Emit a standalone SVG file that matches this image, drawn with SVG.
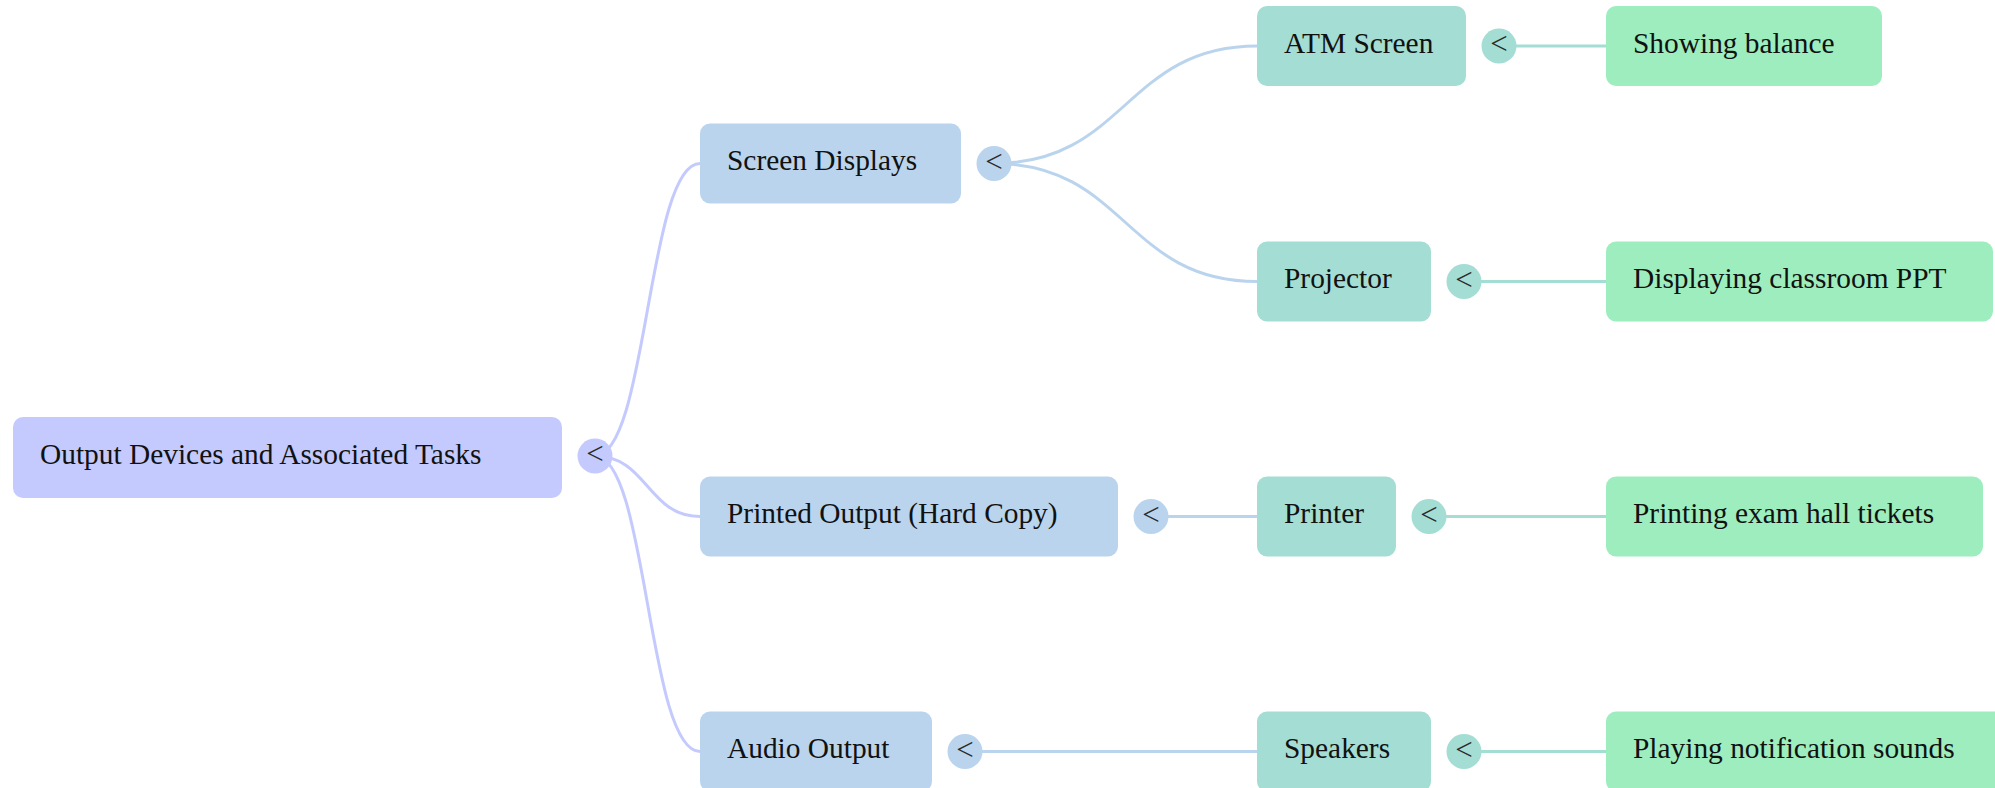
<svg xmlns="http://www.w3.org/2000/svg" width="1995" height="788" viewBox="0 0 1995 788">
<style>
  .lbl { font-family: "Liberation Serif", "Times New Roman", serif; font-size: 29.4px; fill: #111; }
  .tog { font-family: "Liberation Serif", "Times New Roman", serif; font-size: 31px; fill: #2a2a2a; text-anchor: middle; }
  .l0 { fill: #c4cafd; }
  .l1 { fill: #bad4ee; }
  .l2 { fill: #a4ddd3; }
  .l3 { fill: #9dedbe; }
  .c0 { fill: none; stroke: #c4cafd; stroke-width: 3; }
  .c1 { fill: none; stroke: #bad4ee; stroke-width: 3; }
  .c2 { fill: none; stroke: #a4ddd3; stroke-width: 3; }
</style>
<rect width="1995" height="788" fill="#ffffff"/>
<g id="connectors">
  <path class="c0" d="M595 456 C647.5 456 647.5 163.5 700 163.5"/>
  <path class="c0" d="M595 456 C647.5 456 647.5 516.5 700 516.5"/>
  <path class="c0" d="M595 456 C647.5 456 647.5 751.5 700 751.5"/>
  <path class="c1" d="M994 163.5 C1125.5 163.5 1125.5 46 1257 46"/>
  <path class="c1" d="M994 163.5 C1125.5 163.5 1125.5 281.5 1257 281.5"/>
  <path class="c1" d="M1151 516.5 L1257 516.5"/>
  <path class="c1" d="M965 751.5 L1257 751.5"/>
  <path class="c2" d="M1499 46 L1606 46"/>
  <path class="c2" d="M1464 281.5 L1606 281.5"/>
  <path class="c2" d="M1429 516.5 L1606 516.5"/>
  <path class="c2" d="M1464 751.5 L1606 751.5"/>
</g>
<g id="root">
  <rect class="l0" x="13" y="417" width="549" height="81" rx="10"/>
  <text class="lbl" x="40" y="464">Output Devices and Associated Tasks</text>
  <circle class="l0" cx="595" cy="456" r="17.5"/>
  <text class="tog" x="595" y="464">&lt;</text>
</g>
<g id="screen-displays">
  <rect class="l1" x="700" y="123.5" width="261" height="80" rx="10"/>
  <text class="lbl" x="727" y="170">Screen Displays</text>
  <circle class="l1" cx="994" cy="163.5" r="17.5"/>
  <text class="tog" x="994" y="171.5">&lt;</text>
</g>
<g id="printed-output">
  <rect class="l1" x="700" y="476.5" width="418" height="80" rx="10"/>
  <text class="lbl" x="727" y="523">Printed Output (Hard Copy)</text>
  <circle class="l1" cx="1151" cy="516.5" r="17.5"/>
  <text class="tog" x="1151" y="524.5">&lt;</text>
</g>
<g id="audio-output">
  <rect class="l1" x="700" y="711.5" width="232" height="80" rx="10"/>
  <text class="lbl" x="727" y="758">Audio Output</text>
  <circle class="l1" cx="965" cy="751.5" r="17.5"/>
  <text class="tog" x="965" y="759.5">&lt;</text>
</g>
<g id="atm-screen">
  <rect class="l2" x="1257" y="6" width="209" height="80" rx="10"/>
  <text class="lbl" x="1284" y="52.5">ATM Screen</text>
  <circle class="l2" cx="1499" cy="46" r="17.5"/>
  <text class="tog" x="1499" y="54">&lt;</text>
</g>
<g id="projector">
  <rect class="l2" x="1257" y="241.5" width="174" height="80" rx="10"/>
  <text class="lbl" x="1284" y="288">Projector</text>
  <circle class="l2" cx="1464" cy="281.5" r="17.5"/>
  <text class="tog" x="1464" y="289.5">&lt;</text>
</g>
<g id="printer">
  <rect class="l2" x="1257" y="476.5" width="139" height="80" rx="10"/>
  <text class="lbl" x="1284" y="523">Printer</text>
  <circle class="l2" cx="1429" cy="516.5" r="17.5"/>
  <text class="tog" x="1429" y="524.5">&lt;</text>
</g>
<g id="speakers">
  <rect class="l2" x="1257" y="711.5" width="174" height="80" rx="10"/>
  <text class="lbl" x="1284" y="758">Speakers</text>
  <circle class="l2" cx="1464" cy="751.5" r="17.5"/>
  <text class="tog" x="1464" y="759.5">&lt;</text>
</g>
<g id="showing-balance">
  <rect class="l3" x="1606" y="6" width="276" height="80" rx="10"/>
  <text class="lbl" x="1633" y="52.5">Showing balance</text>
</g>
<g id="displaying-classroom-ppt">
  <rect class="l3" x="1606" y="241.5" width="387" height="80" rx="10"/>
  <text class="lbl" x="1633" y="288">Displaying classroom PPT</text>
</g>
<g id="printing-exam-hall-tickets">
  <rect class="l3" x="1606" y="476.5" width="377" height="80" rx="10"/>
  <text class="lbl" x="1633" y="523">Printing exam hall tickets</text>
</g>
<g id="playing-notification-sounds">
  <rect class="l3" x="1606" y="711.5" width="400" height="80" rx="10"/>
  <text class="lbl" x="1633" y="758">Playing notification sounds</text>
</g>
</svg>
